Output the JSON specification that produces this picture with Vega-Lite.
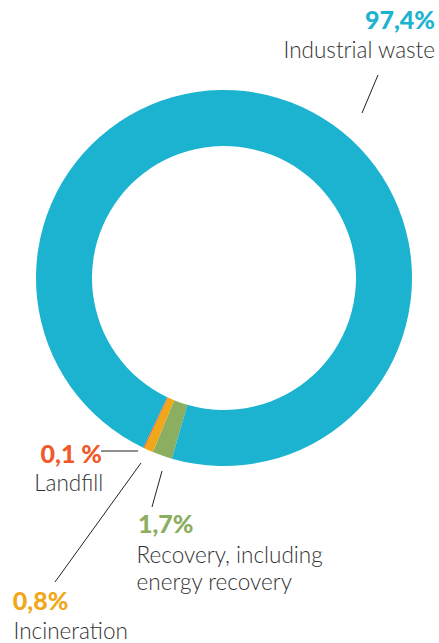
{
  "$schema": "https://vega.github.io/schema/vega-lite/v6.json",
  "width": 430,
  "height": 556,
  "autosize": {"type": "none"},
  "padding": {"left": 9, "top": 0, "right": 0, "bottom": 87},
  "background": "white",
  "config": {"view": {"stroke": null}},
  "datasets": {
    "shares": [
      {"category": "Recovery, including energy recovery", "label": "Recovery, including\nenergy recovery", "pct": "1,7%", "value": 1.7, "ord": 1},
      {"category": "Incineration", "label": "Incineration", "pct": "0,8%", "value": 0.8, "ord": 2},
      {"category": "Landfill", "label": "Landfill", "pct": "0,1 %", "value": 0.1, "ord": 3},
      {"category": "Industrial waste", "label": "Industrial waste", "pct": "97,4%", "value": 97.4, "ord": 4}
    ],
    "leaders": [
      {"category": "Industrial waste", "x": 154, "y": 203, "x2": 138, "y2": 165},
      {"category": "Landfill", "x": -123, "y": -173, "x2": -86, "y2": -173},
      {"category": "Incineration", "x": -83, "y": -185, "x2": -169, "y2": -304},
      {"category": "Recovery, including energy recovery", "x": -62, "y": -193, "x2": -72, "y2": -229}
    ]
  },
  "layer": [
    {
      "data": {"name": "shares"},
      "transform": [
        {"stack": "value", "groupby": [], "sort": [{"field": "ord", "order": "ascending"}], "as": ["v0", "v1"]}
      ],
      "encoding": {
        "theta": {"field": "v0", "type": "quantitative", "stack": null, "scale": {"domain": [0, 100], "range": [3.4226, 9.7058]}},
        "color": {
          "field": "category",
          "type": "nominal",
          "scale": {
            "domain": ["Industrial waste", "Recovery, including energy recovery", "Incineration", "Landfill"],
            "range": ["#1bb3cf", "#8cae60", "#f0a81a", "#f05a28"]
          },
          "legend": null
        }
      },
      "layer": [
        {
          "mark": {"type": "arc", "innerRadius": 132, "outerRadius": 188},
          "encoding": {"theta2": {"field": "v1"}}
        },
        {
          "transform": [{"filter": "datum.category === 'Industrial waste'"}],
          "mark": {"type": "text", "radius": 0, "dx": 211, "dy": -249, "align": "right", "baseline": "alphabetic", "font": "Lato", "fontSize": 25, "fontWeight": 900, "letterSpacing": 1},
          "encoding": {"text": {"field": "pct"}}
        },
        {
          "transform": [{"filter": "datum.category === 'Industrial waste'"}],
          "mark": {"type": "text", "radius": 0, "dx": 211, "dy": -220, "align": "right", "baseline": "alphabetic", "font": "Lato", "fontSize": 22.5, "fontWeight": 300},
          "encoding": {"text": {"field": "label"}, "color": {"value": "#333333"}}
        },
        {
          "transform": [{"filter": "datum.category === 'Landfill'"}],
          "mark": {"type": "text", "radius": 205, "dx": -35, "dy": -1, "align": "right", "baseline": "alphabetic", "font": "Lato", "fontSize": 25, "fontWeight": 900, "letterSpacing": 1},
          "encoding": {"text": {"field": "pct"}}
        },
        {
          "transform": [{"filter": "datum.category === 'Landfill'"}],
          "mark": {"type": "text", "radius": 235, "dx": -21, "dy": 0, "align": "right", "baseline": "alphabetic", "font": "Lato", "fontSize": 22.5, "fontWeight": 300},
          "encoding": {"text": {"field": "label"}, "color": {"value": "#333333"}}
        },
        {
          "transform": [{"filter": "datum.category === 'Recovery, including energy recovery'"}],
          "mark": {"type": "text", "radius": 260, "dx": -14, "dy": 5, "align": "left", "baseline": "alphabetic", "font": "Lato", "fontSize": 25, "fontWeight": 900, "letterSpacing": 1},
          "encoding": {"text": {"field": "pct"}}
        },
        {
          "transform": [{"filter": "datum.category === 'Recovery, including energy recovery'"}],
          "mark": {"type": "text", "radius": 290, "dx": -7, "dy": 6, "align": "left", "baseline": "alphabetic", "font": "Lato", "fontSize": 22.5, "fontWeight": 300, "lineBreak": "\n", "lineHeight": 27},
          "encoding": {"text": {"field": "label"}, "color": {"value": "#333333"}}
        },
        {
          "transform": [{"filter": "datum.category === 'Incineration'"}],
          "mark": {"type": "text", "radius": 360, "dx": -75, "dy": -1, "align": "left", "baseline": "alphabetic", "font": "Lato", "fontSize": 25, "fontWeight": 900, "letterSpacing": 1},
          "encoding": {"text": {"field": "pct"}}
        },
        {
          "transform": [{"filter": "datum.category === 'Incineration'"}],
          "mark": {"type": "text", "radius": 390, "dx": -63, "dy": 0, "align": "left", "baseline": "alphabetic", "font": "Lato", "fontSize": 22.5, "fontWeight": 300},
          "encoding": {"text": {"field": "label"}, "color": {"value": "#333333"}}
        }
      ]
    },
    {
      "data": {"name": "leaders"},
      "mark": {"type": "rule", "color": "#222222", "strokeWidth": 1},
      "encoding": {
        "x": {"field": "x", "type": "quantitative", "scale": {"domain": [-215, 215]}, "axis": null},
        "y": {"field": "y", "type": "quantitative", "scale": {"domain": [-278, 278]}, "axis": null},
        "x2": {"field": "x2"},
        "y2": {"field": "y2"}
      }
    }
  ]
}
